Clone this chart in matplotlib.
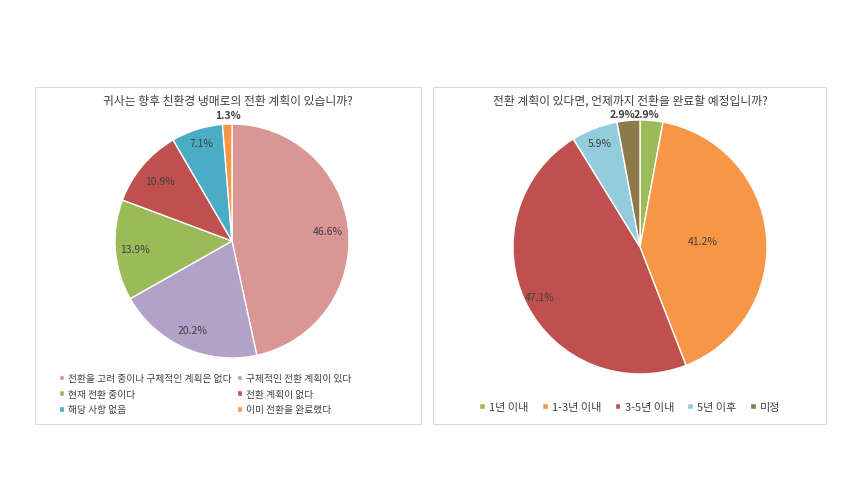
import matplotlib.pyplot as plt
from matplotlib.patches import Rectangle
from matplotlib import font_manager
import numpy as np

names = {f.name for f in font_manager.fontManager.ttflist}
cjk = [n for n in ["Noto Sans CJK KR", "Noto Sans CJK JP", "Noto Sans CJK SC", "Noto Sans CJK TC"] if n in names]
plt.rcParams["font.family"] = cjk + ["DejaVu Sans"]

left_title = "귀사는 향후 친환경 냉매로의 전환 계획이 있습니까?"
left_labels = ["전환을 고려 중이나 구체적인 계획은 없다", "구체적인 전환 계획이 있다", "현재 전환 중이다",
               "전환 계획이 없다", "해당 사항 없음", "이미 전환을 완료했다"]
left_values = [46.6, 20.2, 13.9, 10.9, 7.1, 1.3]
left_colors = ["#D99694", "#B3A2C7", "#9BBB59", "#C0504D", "#4BACC6", "#F79646"]
left_dist = [0.82, 0.83, 0.83, 0.8, 0.88, 1.1]

right_title = "전환 계획이 있다면, 언제까지 전환을 완료할 예정입니까?"
right_labels = ["1년 이내", "1-3년 이내", "3-5년 이내", "5년 이후", "미정"]
right_values = [2.9, 41.2, 47.1, 5.9, 2.9]
right_colors = ["#9BBB59", "#F79646", "#C0504D", "#93CDDD", "#8C7A4B"]
right_dist = [1.1, 0.5, 0.88, 0.88, 1.1]

W, H = 865, 489
fig = plt.figure(figsize=(W / 100, H / 100), dpi=100)


def px(x, y, w, h):
    return [x / W, 1 - (y + h) / H, w / W, h / H]


# panel borders
for x0, x1 in [(35, 421), (433, 826)]:
    fig.patches.append(Rectangle((x0 / W, 1 - 425 / H), (x1 - x0) / W, (425 - 88) / H,
                                 transform=fig.transFigure, fill=False, ec="#D9D9D9", lw=0.8))


def draw_pie(cx, cy, r, values, colors, dists, fixed=None):
    ax = fig.add_axes(px(cx - r, cy - r, 2 * r, 2 * r))
    wedges, _ = ax.pie(values, colors=colors, startangle=90, counterclock=False,
                       wedgeprops=dict(edgecolor="white", linewidth=1))
    ang = 90.0
    for i, (v, d) in enumerate(zip(values, dists)):
        mid = np.deg2rad(ang - v * 3.6 / 2)
        ang -= v * 3.6
        x, y = d * np.cos(mid), d * np.sin(mid)
        if fixed and i in fixed:
            x, y = fixed[i]
        ax.text(x, y, f"{v:.1f}%", ha="center", va="center",
                fontsize=7.5, color="#404040", clip_on=False,
                fontweight="bold" if d > 1 else "normal")
    ax.set_xlim(-1, 1)
    ax.set_ylim(-1, 1)
    ax.set_aspect("equal")
    ax.axis("off")
    return wedges


lw = draw_pie(232, 242, 117, left_values, left_colors, left_dist, {5: (-0.03, 1.08)})
rw = draw_pie(640, 248, 127, right_values, right_colors, right_dist, {0: (0.05, 1.05), 4: (-0.14, 1.05)})

fig.text(228 / W, 1 - 101 / H, left_title, ha="center", va="center", fontsize=8.5, color="#404040")
fig.text(630 / W, 1 - 101 / H, right_title, ha="center", va="center", fontsize=8.5, color="#404040")

# reorder so the 2-column legend reads row by row
order = [0, 2, 4, 1, 3, 5]
fig.legend([lw[i] for i in order], [left_labels[i] for i in order], loc="upper left",
           bbox_to_anchor=(50 / W, 1 - 365 / H), ncol=2,
           frameon=False, fontsize=7, handlelength=0.5, handleheight=0.5, handletextpad=0.4,
           columnspacing=0.6, labelspacing=0.6, labelcolor="#404040")
fig.legend(rw, right_labels, loc="center", bbox_to_anchor=(630 / W, 1 - 408 / H), ncol=5,
           frameon=False, fontsize=8, handlelength=0.5, handleheight=0.5, handletextpad=0.4,
           columnspacing=1.2, labelcolor="#404040")

fig.savefig("out.png", dpi=100)
